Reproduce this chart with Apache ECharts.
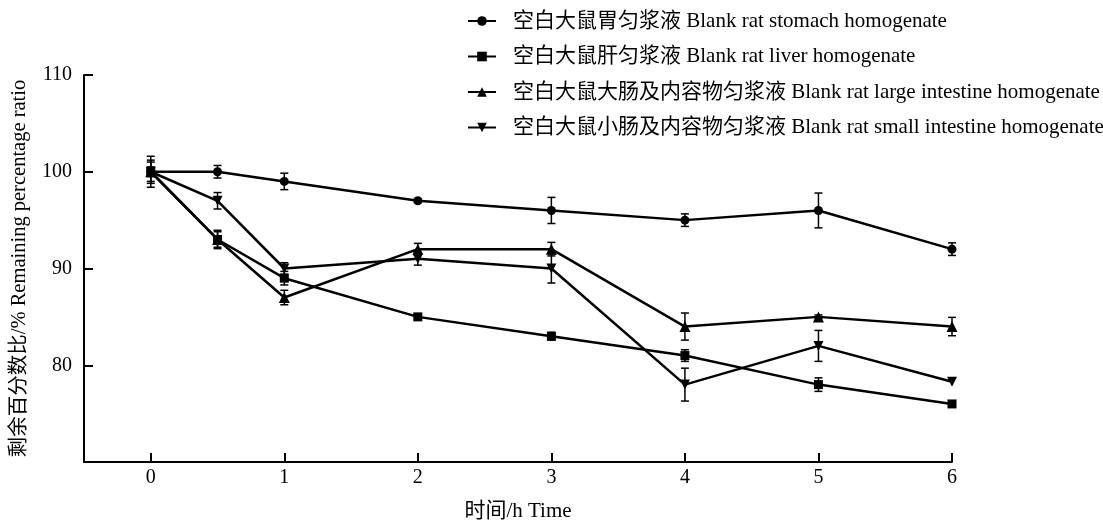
<!DOCTYPE html>
<html>
<head>
<meta charset="utf-8">
<title>Remaining percentage ratio</title>
<script src="https://cdn.jsdelivr.net/npm/echarts@6/dist/echarts.min.js"></script>
<style>
  html, body { margin: 0; padding: 0; background: #fff; }
  #chart { width: 1103px; height: 520px; }
</style>
</head>
<body>
<div id="chart"></div>
<script>
// Sampling times (h)
const times = [0, 0.5, 1, 2, 3, 4, 5, 6];
const xTicks = [0, 1, 2, 3, 4, 5, 6];

// Remaining percentage (mean) and error (±) per homogenate
const stomach    = [100, 100, 99, 97, 96, 95, 96, 92];
const stomachErr = [1.6, 0.65, 0.85, 0.2, 1.35, 0.65, 1.8, 0.65];
const liver      = [100, 93, 89, 85, 83, 81, 78, 76];
const liverErr   = [0.5, 0.95, 0.7, 0.3, 0.4, 0.6, 0.7, 0.2];
const large      = [100, 93, 87, 92, 92, 84, 85, 84];
const largeErr   = [1.2, 0.8, 0.75, 0.6, 0.7, 1.4, 0.2, 0.95];
const small      = [100, 97, 90, 91, 90, 78, 82, 78.3];
const smallErr   = [1.0, 0.85, 0.6, 0.65, 1.5, 1.7, 1.6, 0];

const names = [
  '空白大鼠胃匀浆液 Blank rat stomach homogenate',
  '空白大鼠肝匀浆液 Blank rat liver homogenate',
  '空白大鼠大肠及内容物匀浆液 Blank rat large intestine homogenate',
  '空白大鼠小肠及内容物匀浆液 Blank rat small intestine homogenate'
];
const symbols = ['circle', 'rect', 'triangle', 'path://M0,0 L10,0 L5,9 Z'];
const symbolSizes = [9, 9, 11, 10];
const means = [stomach, liver, large, small];
const errs = [stomachErr, liverErr, largeErr, smallErr];

const FONT = '"Liberation Serif", "Noto Sans CJK SC", serif';
const INK = '#000';

function pairs(ys) { return times.map((t, i) => [t, ys[i]]); }

// Error bars: vertical whisker with caps, placed through the axis scales
function errorSeries(ys, es, idx) {
  return {
    type: 'custom',
    name: 'err' + idx,
    data: times.map((t, i) => [t, ys[i] - es[i], ys[i] + es[i]]),
    encode: { x: 0, y: [1, 2] },
    z: 1,
    silent: true,
    renderItem: function (params, api) {
      const lo = api.coord([api.value(0), api.value(1)]);
      const hi = api.coord([api.value(0), api.value(2)]);
      if (Math.abs(lo[1] - hi[1]) < 1) return null;
      const w = 4;
      const style = { stroke: INK, lineWidth: 1.5 };
      return {
        type: 'group',
        children: [
          { type: 'line', shape: { x1: lo[0], y1: lo[1], x2: hi[0], y2: hi[1] }, style },
          { type: 'line', shape: { x1: lo[0] - w, y1: lo[1], x2: lo[0] + w, y2: lo[1] }, style },
          { type: 'line', shape: { x1: hi[0] - w, y1: hi[1], x2: hi[0] + w, y2: hi[1] }, style }
        ]
      };
    }
  };
}

const lineSeries = names.map((n, i) => ({
  type: 'line',
  name: n,
  data: pairs(means[i]),
  symbol: symbols[i],
  symbolSize: symbolSizes[i],
  showAllSymbol: true,
  z: 3,
  lineStyle: { color: INK, width: 2.5 },
  itemStyle: { color: INK, borderColor: INK, borderWidth: 0 }
}));

const errSeries = means.map((m, i) => errorSeries(m, errs[i], i));

const chart = echarts.init(document.getElementById('chart'), null, { renderer: 'canvas' });
chart.setOption({
  animation: false,
  backgroundColor: '#fff',
  textStyle: { fontFamily: FONT, color: INK },
  grid: { left: 84, right: 151, top: 75, bottom: 58, containLabel: false, outerBoundsMode: 'none' },
  legend: {
    data: names,
    orient: 'vertical',
    left: 462,
    top: 5,
    itemWidth: 28,
    itemHeight: 12,
    itemGap: 13.5,
    textStyle: { fontFamily: FONT, fontSize: 21, lineHeight: 22, color: INK, padding: [0, 0, 0, 12] },
    inactiveColor: INK
  },
  xAxis: {
    type: 'value',
    min: -0.5,
    max: 6,
    name: '时间/h Time',
    nameLocation: 'middle',
    nameGap: 39,
    nameTextStyle: { fontFamily: FONT, fontSize: 21, color: INK },
    axisLine: { onZero: false, lineStyle: { color: INK, width: 2 } },
    axisTick: { inside: true, length: 9, lineStyle: { color: INK, width: 2 }, customValues: xTicks },
    axisLabel: { fontFamily: FONT, fontSize: 20, color: INK, margin: 6, customValues: xTicks },
    splitLine: { show: false }
  },
  yAxis: {
    type: 'value',
    min: 70,
    max: 110,
    interval: 10,
    name: '剩余百分数比/% Remaining percentage ratio',
    nameLocation: 'middle',
    nameGap: 54,
    nameRotate: 90,
    nameTextStyle: { fontFamily: FONT, fontSize: 20.5, color: INK },
    axisLine: { show: true, onZero: false, lineStyle: { color: INK, width: 2 } },
    axisTick: { show: true, inside: true, length: 9, lineStyle: { color: INK, width: 2 } },
    axisLabel: {
      fontFamily: FONT, fontSize: 20, color: INK, margin: 12,
      formatter: v => (v === 70 ? '' : String(v))
    },
    splitLine: { show: false }
  },
  series: errSeries.concat(lineSeries)
});
</script>
</body>
</html>
